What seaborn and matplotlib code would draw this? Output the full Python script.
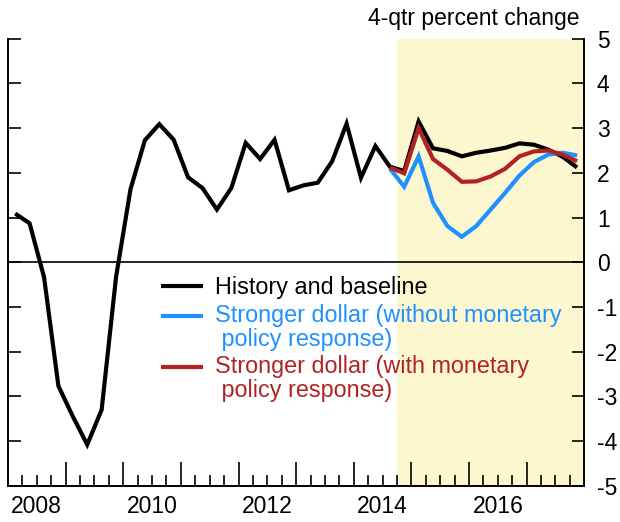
import numpy as np
import pandas as pd
import matplotlib
matplotlib.use("Agg")
import matplotlib.pyplot as plt
import seaborn as sns

# Quarterly 4-quarter percent change, 2008Q1-2017Q4
quarters = pd.period_range("2008Q1", "2017Q4", freq="Q")
baseline = [1.09, 0.87, -0.33, -2.77,
            -3.45, -4.08, -3.30, -0.33,
            1.63, 2.73, 3.09, 2.74,
            1.90, 1.66, 1.18, 1.66,
            2.67, 2.31, 2.74, 1.61,
            1.72, 1.78, 2.26, 3.10,
            1.89, 2.60, 2.14, 2.04,
            3.15, 2.55, 2.49, 2.37,
            2.45, 2.50, 2.56, 2.66,
            2.63, 2.52, 2.36, 2.12]

# Alternative scenarios, 2014Q3-2017Q4
scenario_start = "2014Q3"
no_policy = [2.10, 1.69, 2.37, 1.33, 0.81, 0.57, 0.81,
             1.18, 1.55, 1.94, 2.24, 2.41, 2.45, 2.39]
with_policy = [2.12, 1.99, 3.00, 2.31, 2.07, 1.80, 1.81,
               1.92, 2.09, 2.37, 2.48, 2.50, 2.41, 2.26]

forecast_start = 2014.75
year_labels = ["2008", "2010", "2012", "2014", "2016"]
y_ticks = [5, 4, 3, 2, 1, 0, -1, -2, -3, -4, -5]

labels = ["History and baseline",
          "Stronger dollar (without monetary\n policy response)",
          "Stronger dollar (with monetary\n policy response)"]
colors = ["#000000", "#1E90FF", "#B22222"]


def to_year(periods):
    return periods.year + (periods.quarter - 0.5) / 4.0


scen_q = quarters[quarters >= pd.Period(scenario_start, freq="Q")]
df_base = pd.DataFrame({"date": to_year(quarters), "value": baseline})
df_nop = pd.DataFrame({"date": to_year(scen_q), "value": no_policy})
df_wp = pd.DataFrame({"date": to_year(scen_q), "value": with_policy})

sns.set_style("ticks")
plt.rcParams["font.family"] = ["Liberation Sans", "DejaVu Sans"]
plt.rcParams["axes.unicode_minus"] = False

fig = plt.figure(figsize=(6.2, 5.22), dpi=100)
ax = fig.add_axes([0.0129, 0.0695, 0.9295, 0.8562])

ax.axvspan(forecast_start, 2018.0, color="#FDF7CF", lw=0, zorder=0)
ax.axhline(0, color="black", lw=1.2, zorder=1)

line_kw = dict(linewidth=3.0, solid_joinstyle="miter", solid_capstyle="butt")
sns.lineplot(data=df_base, x="date", y="value", color=colors[0], ax=ax,
             label=labels[0], zorder=3, **line_kw)
sns.lineplot(data=df_nop, x="date", y="value", color=colors[1], ax=ax,
             label=labels[1], zorder=4, **line_kw)
sns.lineplot(data=df_wp, x="date", y="value", color=colors[2], ax=ax,
             label=labels[2], zorder=5, **line_kw)

ax.set_xlim(2008.0, 2018.0)
ax.set_ylim(-5, 5)
ax.set_xlabel("")
ax.set_ylabel("")

for side in ["left", "right", "bottom"]:
    ax.spines[side].set_linewidth(1.4)
    ax.spines[side].set_color("black")
ax.spines["top"].set_visible(False)
ax.spines["right"].set_visible(True)

# x axis: long ticks at year boundaries, short ticks at quarters
ax.set_xticks(np.arange(2009, 2018, 1))
ax.set_xticklabels([])
ax.set_xticks(np.arange(2008.25, 2018, 0.25), minor=True)
ax.tick_params(axis="x", which="major", direction="in", length=17, width=1.2, color="black")
ax.tick_params(axis="x", which="minor", direction="in", length=8, width=1.2, color="black")

sec = ax.secondary_xaxis("bottom")
sec.set_xticks([int(y) + 0.5 for y in year_labels], labels=year_labels)
sec.tick_params(length=0, pad=7, labelsize=16.5, labelcolor="black")
sec.spines["bottom"].set_visible(False)

ax.set_yticks(y_ticks)
ax.set_yticklabels([str(v) for v in y_ticks])
ax.tick_params(axis="y", which="major", direction="in", length=9, width=1.2,
               left=True, right=True, labelleft=False, labelright=True,
               pad=9, labelsize=16.5, color="black", labelcolor="black")

ax.annotate("4-qtr percent change", xy=(0.991, 1.0), xycoords="axes fraction",
            xytext=(0, 10), textcoords="offset points", ha="right",
            va="baseline", fontsize=16.5, color="black")

leg = ax.legend(loc="upper left", bbox_to_anchor=(0.25, 0.49), frameon=False,
                fontsize=16.8, handlelength=1.8, handletextpad=0.5,
                labelspacing=0.2, labelcolor="linecolor", borderaxespad=0)
for txt in leg.get_texts():
    txt.set_linespacing(1.05)
# keep the swatch of two-line entries level with their first line
for handle, txt in zip(leg.legend_handles, leg.get_texts()):
    n_lines = txt.get_text().count("\n") + 1
    if n_lines > 1:
        shift = 16.8 * 1.05 * (n_lines - 1) / 2.0
        handle.set_ydata(np.asarray(handle.get_ydata()) + shift)

fig.savefig("out.png", dpi=100)
